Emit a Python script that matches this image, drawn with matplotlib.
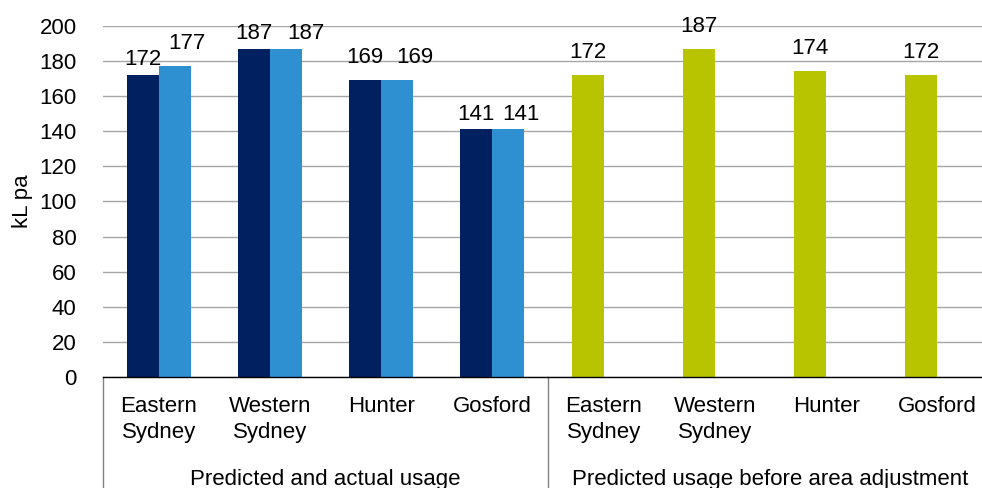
import matplotlib
matplotlib.use("Agg")
import matplotlib.pyplot as plt
from matplotlib.lines import Line2D
import matplotlib.transforms as mtransforms

plt.rcParams['font.family'] = ['Liberation Sans', 'DejaVu Sans']

categories = ["Eastern\nSydney", "Western\nSydney", "Hunter", "Gosford"]
group_labels = ["Predicted and actual usage", "Predicted usage before area adjustment"]
predicted = [172, 187, 169, 141]
actual = [177, 187, 169, 141]
before_adjustment = [172, 187, 174, 172]
y_ticks = [0, 20, 40, 60, 80, 100, 120, 140, 160, 180, 200]

NAVY = "#002060"
BLUE = "#2E90D0"
GREEN = "#B8C400"

# label nudges in pixels (dx, gap above bar top to digit baseline)
navy_dx = [0, 0, 0, 0]
navy_gap = [10, 10, 17, 9]
blue_dx = [12.5, 20, 17.5, 12.5]
blue_gap = [17, 10, 17, 9]
green_dx = [0, 0, 0, 0]
green_gap = [17, 17, 17, 17]

W, H = 982, 488
PT = 72 / 100.0
fig = plt.figure(figsize=(W / 100, H / 100), dpi=100)
ax = fig.add_axes([103 / W, 110.8 / H, 890 / W, 351.5 / H])

bw = 0.288
n = len(categories)
x1 = list(range(n))
x2 = [i + n for i in range(n)]

b1 = ax.bar([x - bw / 2 for x in x1], predicted, width=bw, color=NAVY, zorder=3)
b2 = ax.bar([x + bw / 2 for x in x1], actual, width=bw, color=BLUE, zorder=3)
b3 = ax.bar([x - bw / 2 for x in x2], before_adjustment, width=bw, color=GREEN, zorder=3)

for bars, dxs, gaps in ((b1, navy_dx, navy_gap), (b2, blue_dx, blue_gap), (b3, green_dx, green_gap)):
    for rect, dx, gap in zip(bars, dxs, gaps):
        h = rect.get_height()
        ax.annotate(f"{h:.0f}", (rect.get_x() + rect.get_width() / 2, h),
                    xytext=(dx * PT, gap * PT), textcoords="offset points",
                    ha="center", va="baseline", fontsize=16, color="black")

ax.set_xlim(-0.5, 2 * n - 0.5)
ax.set_ylim(0, 200)
ax.set_yticks(y_ticks)
ax.tick_params(axis="y", length=0, pad=19, labelsize=16)
ax.set_xticks([])
ax.yaxis.grid(True, color="#A6A6A6", linewidth=1)
ax.set_axisbelow(True)
for s in ("left", "right", "top"):
    ax.spines[s].set_visible(False)
ax.spines["bottom"].set_color("black")
ax.spines["bottom"].set_linewidth(1)
ax.spines["bottom"].set_zorder(4)

ax.set_ylabel("kL pa", fontsize=16)
ax.yaxis.set_label_coords(-(103 - 33) / 890, 0.5)

trans = mtransforms.blended_transform_factory(ax.transData, ax.transAxes)
for i, lab in enumerate(categories * 2):
    ax.annotate(lab, (i, 0), xycoords=trans, xytext=(0, -13.5), textcoords="offset points",
                ha="center", va="top", fontsize=16, linespacing=1.32, annotation_clip=False)

for g, lab in enumerate(group_labels):
    cx = g * n + (n - 1) / 2
    ax.annotate(lab, (cx, 0), xycoords=trans, xytext=(0, -66), textcoords="offset points",
                ha="center", va="top", fontsize=16, annotation_clip=False)

for xs in (-0.5, n - 0.5, 2 * n - 0.5):
    ax.add_line(Line2D([xs, xs], [0, -0.4], transform=trans, color="#808080",
                       linewidth=1, clip_on=False))

fig.savefig("out.png", dpi=100)
